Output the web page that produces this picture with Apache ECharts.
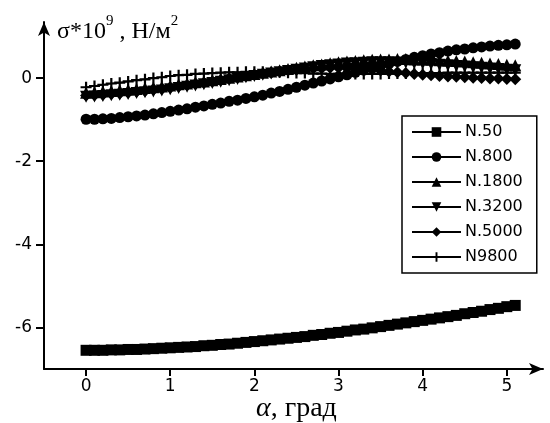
<!DOCTYPE html>
<html>
<head>
<meta charset="utf-8">
<script src="https://cdn.jsdelivr.net/npm/echarts@6/dist/echarts.min.js"></script>
<style>
html,body{margin:0;padding:0;background:#fff;}
#chart{width:550px;height:423px;}
</style>
</head>
<body>
<div id="chart"></div>
<script>
// alpha, degrees
const alphaValues = [0.0,0.1,0.2,0.3,0.4,0.5,0.6,0.7,0.8,0.9,1.0,1.1,1.2,1.3,1.4,1.5,1.6,1.7,1.8,1.9,2.0,2.1,2.2,2.3,2.4,2.5,2.6,2.7,2.8,2.9,3.0,3.1,3.2,3.3,3.4,3.5,3.6,3.7,3.8,3.9,4.0,4.1,4.2,4.3,4.4,4.5,4.6,4.7,4.8,4.9,5.0,5.1];

const n50 = [-6.55,-6.55,-6.55,-6.54,-6.54,-6.53,-6.53,-6.52,-6.51,-6.50,-6.49,-6.48,-6.47,-6.46,-6.44,-6.43,-6.41,-6.40,-6.38,-6.36,-6.34,-6.32,-6.30,-6.28,-6.26,-6.24,-6.22,-6.19,-6.17,-6.14,-6.12,-6.09,-6.06,-6.04,-6.01,-5.98,-5.95,-5.92,-5.89,-5.86,-5.83,-5.80,-5.77,-5.74,-5.71,-5.67,-5.64,-5.61,-5.57,-5.54,-5.50,-5.47];
const n800 = [-0.99,-0.99,-0.98,-0.97,-0.95,-0.93,-0.91,-0.89,-0.86,-0.83,-0.80,-0.77,-0.74,-0.70,-0.67,-0.63,-0.60,-0.56,-0.53,-0.49,-0.45,-0.41,-0.36,-0.32,-0.27,-0.22,-0.17,-0.12,-0.07,-0.02,0.03,0.08,0.14,0.19,0.25,0.30,0.35,0.40,0.45,0.50,0.54,0.58,0.61,0.65,0.68,0.70,0.73,0.75,0.77,0.79,0.80,0.82];
const n1800 = [-0.35,-0.34,-0.32,-0.31,-0.29,-0.28,-0.26,-0.24,-0.22,-0.20,-0.18,-0.15,-0.13,-0.10,-0.08,-0.05,-0.02,0.01,0.04,0.07,0.10,0.13,0.16,0.19,0.22,0.25,0.28,0.31,0.33,0.36,0.38,0.40,0.41,0.43,0.44,0.45,0.45,0.46,0.46,0.45,0.45,0.44,0.43,0.42,0.41,0.40,0.38,0.37,0.35,0.34,0.32,0.31];
const n3200 = [-0.45,-0.44,-0.43,-0.41,-0.40,-0.38,-0.36,-0.34,-0.32,-0.30,-0.27,-0.24,-0.21,-0.18,-0.15,-0.12,-0.09,-0.05,-0.02,0.02,0.05,0.08,0.11,0.14,0.17,0.20,0.23,0.26,0.29,0.31,0.33,0.35,0.36,0.37,0.38,0.38,0.38,0.37,0.37,0.36,0.35,0.34,0.32,0.31,0.29,0.28,0.26,0.25,0.23,0.22,0.20,0.19];
const n5000 = [-0.42,-0.41,-0.40,-0.38,-0.37,-0.35,-0.33,-0.31,-0.28,-0.26,-0.23,-0.20,-0.17,-0.14,-0.11,-0.08,-0.05,-0.01,0.02,0.05,0.08,0.11,0.13,0.16,0.18,0.20,0.22,0.23,0.24,0.25,0.25,0.24,0.23,0.21,0.20,0.18,0.16,0.14,0.12,0.10,0.08,0.07,0.05,0.04,0.03,0.02,0.01,0.00,-0.01,-0.01,-0.02,-0.03];
const n9800 = [-0.22,-0.19,-0.16,-0.13,-0.11,-0.08,-0.05,-0.03,0.00,0.02,0.05,0.07,0.08,0.10,0.11,0.12,0.13,0.14,0.14,0.15,0.15,0.15,0.14,0.14,0.13,0.12,0.12,0.11,0.11,0.10,0.10,0.10,0.10,0.10,0.10,0.10,0.11,0.11,0.11,0.12,0.12,0.12,0.12,0.13,0.13,0.13,0.13,0.13,0.13,0.13,0.13,0.13];

const seriesNames = ['N.50','N.800','N.1800','N.3200','N.5000','N9800'];
const xTicks = [0,1,2,3,4,5];
const yTicks = [-6,-4,-2,0];

const seriesValues = [n50, n800, n1800, n3200, n5000, n9800];
const symbols = ['rect','circle','triangle','triangle','diamond','path://M4,0H6V4H10V6H6V10H4V6H0V4H4Z'];
const symbolSizes = [11, 11, 12, 12, 12, 11];
const symbolRotates = [0, 0, 0, 180, 0, 0];

const chart = echarts.init(document.getElementById('chart'), null, {renderer:'canvas'});

const series = seriesNames.map((name, i) => ({
  name: name,
  type: 'line',
  data: alphaValues.map((a, k) => [a, seriesValues[i][k]]),
  symbol: symbols[i],
  symbolSize: symbolSizes[i],
  symbolRotate: symbolRotates[i],
  showSymbol: true,
  showAllSymbol: true,
  lineStyle: {color: '#000', width: 1.5},
  itemStyle: {color: '#000', borderWidth: 0},
  emphasis: {disabled: true},
  z: 2
}));

const axisFont = {color:'#000', fontSize: 17, fontFamily: 'DejaVu Sans'};

chart.setOption({
  backgroundColor: '#fff',
  animation: false,
  grid: {left: 44, right: 7, top: 22, bottom: 54, containLabel: false},
  xAxis: {
    type: 'value', min: -0.5, max: 5.43,
    axisLine: {show: true, onZero: false, symbol: ['none','arrow'], symbolSize: [9, 14], lineStyle: {color:'#000', width: 2}},
    axisTick: {show: true, customValues: xTicks, length: 7, lineStyle: {color:'#000', width: 2}},
    axisLabel: Object.assign({customValues: xTicks, margin: 9}, axisFont),
    splitLine: {show: false}
  },
  yAxis: {
    type: 'value', min: -7, max: 1.35,
    axisLine: {show: true, onZero: false, symbol: ['none','arrow'], symbolSize: [9, 14], lineStyle: {color:'#000', width: 2}},
    axisTick: {show: true, customValues: yTicks, length: 8, lineStyle: {color:'#000', width: 2}},
    axisLabel: Object.assign({customValues: yTicks, margin: 12}, axisFont),
    splitLine: {show: false}
  },
  legend: {
    orient: 'vertical',
    left: 402, top: 116,
    data: seriesNames,
    itemWidth: 49, itemHeight: 12, itemGap: 9,
    padding: [8, 14, 8, 9],
    borderColor: '#000', borderWidth: 1.5, backgroundColor: '#fff',
    textStyle: {color:'#000', fontSize: 16, fontFamily: 'DejaVu Sans', lineHeight: 16, padding: [0,0,0,-1]},
    selectedMode: false
  },
  graphic: [
    {
      type: 'text', left: 57, top: 14,
      style: {
        text: '{a|σ*10}{s|9}{a| , Н/м}{s|2}',
        fill: '#000',
        rich: {
          a: {fontSize: 24, fontFamily: 'Liberation Serif', fill: '#000', lineHeight: 30, verticalAlign: 'bottom'},
          s: {fontSize: 15, fontFamily: 'Liberation Serif', fill: '#000', lineHeight: 30, verticalAlign: 'top'}
        }
      }
    },
    {
      type: 'text', left: 256, top: 395,
      style: {
        text: '{g|α}{b|, град}',
        fill: '#000',
        rich: {
          g: {fontSize: 28, fontFamily: 'Liberation Serif', fontStyle: 'italic', fill: '#000'},
          b: {fontSize: 28, fontFamily: 'Liberation Serif', fill: '#000'}
        }
      }
    }
  ],
  series: series
});
</script>
</body>
</html>
